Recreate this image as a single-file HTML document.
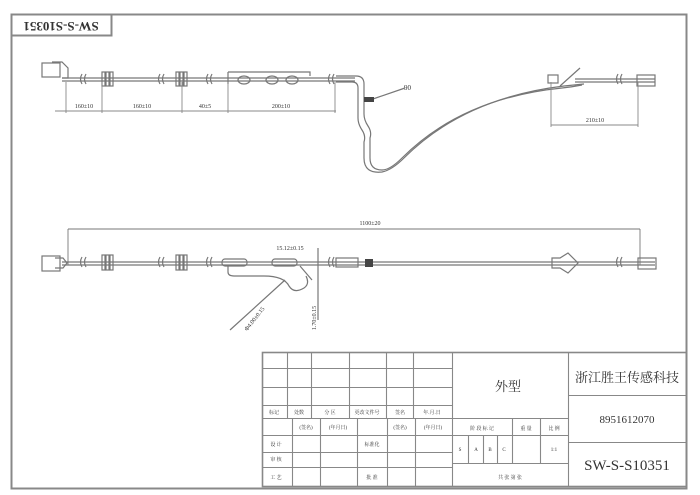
<!DOCTYPE html>
<html><head><meta charset="utf-8"><style>
html,body{margin:0;padding:0;background:#fff;}
svg{display:block;}
text{font-family:"Liberation Serif","Noto Serif CJK SC",serif;fill:#333;}
</style></head><body>
<svg width="700" height="495" viewBox="0 0 700 495" xmlns="http://www.w3.org/2000/svg">
<g fill="none" stroke="#777" stroke-width="1">
<rect x="11.5" y="14.5" width="675" height="474" stroke="#888" stroke-width="2"/>
<rect x="11.5" y="14.5" width="100" height="21" stroke="#888" stroke-width="2"/>
</g>
<text x="61" y="25" font-size="13" font-weight="bold" text-anchor="middle" transform="rotate(180 61 25)" dominant-baseline="middle" fill="#555">SW-S-S10351</text>

<g fill="none" stroke="#777" stroke-width="1.2">
<line x1="62" y1="78" x2="355" y2="78"/><line x1="62" y1="81" x2="355" y2="81"/>
<rect x="42" y="63" width="18" height="14"/><path d="M52 62 h10 l6 6 v10 h-6"/>
<path d="M82 74 q-3 5 0 10 M86 74 q-3 5 0 10"/>
<rect x="102" y="72" width="3" height="14"/><rect x="106" y="72" width="3" height="14"/><rect x="110" y="72" width="3" height="14"/>
<path d="M160 74 q-3 5 0 10 M164 74 q-3 5 0 10"/>
<rect x="176" y="72" width="3" height="14"/><rect x="180" y="72" width="3" height="14"/><rect x="184" y="72" width="3" height="14"/>
<path d="M208 74 q-3 5 0 10 M212 74 q-3 5 0 10"/>
<path d="M228 72 h82 l0 4 M228 72 v12"/>
<ellipse cx="244" cy="80" rx="6" ry="4"/><ellipse cx="272" cy="80" rx="6" ry="4"/><ellipse cx="292" cy="80" rx="6" ry="4"/>
<path d="M330 74 q-3 5 0 10 M334 74 q-3 5 0 10"/>
<path d="M336 76 h20 q8 0 8 8 v30 q0 6 4 12 q4 6 2 12 v20 q0 12 12 12 q8 0 20 -12 q60 -60 160 -70 q10 -1 20 -3"/>
<path d="M336 82 h16 q6 0 6 6 v30 q0 6 4 12 q4 6 2 12 v16 q0 16 18 14 q10 -2 22 -14 q60 -60 160 -72 q10 -1 20 -2"/>
<rect x="548" y="75" width="10" height="8"/>
<line x1="560" y1="86" x2="580" y2="68"/>
<line x1="575" y1="79" x2="655" y2="79"/><line x1="575" y1="82" x2="655" y2="82"/>
<path d="M618 74 q-3 5 0 10 M622 74 q-3 5 0 10"/>
<rect x="637" y="75" width="18" height="11"/>
<line x1="370" y1="100" x2="405" y2="88"/>
</g>
<rect x="364" y="97" width="10" height="5" fill="#444"/>
<text x="404" y="90" font-size="7">90</text>

<g stroke="#888" stroke-width="0.9" fill="none">
<line x1="55" y1="111" x2="336" y2="111"/>
<line x1="66" y1="82" x2="66" y2="113"/><line x1="102" y1="82" x2="102" y2="113"/>
<line x1="182" y1="82" x2="182" y2="113"/><line x1="228" y1="82" x2="228" y2="113"/>
<line x1="335" y1="82" x2="335" y2="113"/>
<line x1="551" y1="82" x2="551" y2="127"/><line x1="638" y1="82" x2="638" y2="127"/>
<line x1="551" y1="125" x2="638" y2="125"/>
</g>
<g font-size="6" text-anchor="middle">
<text x="84" y="108">160±10</text><text x="142" y="108">160±10</text>
<text x="205" y="108">40±5</text><text x="281" y="108">200±10</text>
<text x="595" y="122">210±10</text>
</g>

<g fill="none" stroke="#777" stroke-width="1.2">
<line x1="68" y1="229" x2="640" y2="229" stroke-width="0.9"/>
<line x1="68" y1="229" x2="68" y2="265" stroke-width="0.9"/>
<line x1="640" y1="229" x2="640" y2="265" stroke-width="0.9"/>
<line x1="62" y1="262" x2="655" y2="262"/><line x1="62" y1="265" x2="655" y2="265"/>
<rect x="42" y="256" width="18" height="15"/><path d="M55 258 h8 l4 5 -4 5 h-8"/>
<path d="M82 257 q-3 5 0 10 M86 257 q-3 5 0 10"/>
<rect x="102" y="255" width="3" height="15"/><rect x="106" y="255" width="3" height="15"/><rect x="110" y="255" width="3" height="15"/>
<path d="M160 257 q-3 5 0 10 M164 257 q-3 5 0 10"/>
<rect x="176" y="255" width="3" height="15"/><rect x="180" y="255" width="3" height="15"/><rect x="184" y="255" width="3" height="15"/>
<path d="M208 257 q-3 5 0 10 M212 257 q-3 5 0 10"/>
<rect x="222" y="259" width="25" height="7" rx="3"/><rect x="272" y="259" width="25" height="7" rx="3"/>
<path d="M228 266 v6 q0 4 6 4 h30 q20 0 25 10 q5 8 15 2 q6 -4 2 -12"/>
<line x1="300" y1="266" x2="312" y2="280"/>
<path d="M330 257 q-3 5 0 10 M334 257 q-3 5 0 10"/>
<rect x="336" y="258" width="22" height="9"/>
<line x1="318" y1="248" x2="318" y2="320"/>
<line x1="285" y1="280" x2="230" y2="330"/>
<path d="M552 258 h8 l8 -5 l10 10 -10 10 -8 -5 h-8 z"/>
<path d="M618 257 q-3 5 0 10 M622 257 q-3 5 0 10"/>
<rect x="638" y="258" width="18" height="11"/>
</g>
<path d="M365 259 h8 v8 h-8 z" fill="#444"/>
<g font-size="6" text-anchor="middle">
<text x="370" y="225">1100±20</text>
<text x="290" y="250">15.12±0.15</text>
<text x="256" y="320" transform="rotate(-52 256 320)">Φ4.00±0.15</text>
<text x="316" y="318" transform="rotate(-90 316 318)">1.70±0.15</text>
</g>

<g stroke="#888" stroke-width="1.1" fill="none">
<rect x="262.5" y="352.5" width="424" height="134" stroke-width="1.6"/>
<line x1="452.5" y1="352" x2="452.5" y2="486"/>
<line x1="568.5" y1="352" x2="568.5" y2="486"/>
<line x1="568" y1="395.5" x2="687" y2="395.5"/>
<line x1="568" y1="442.5" x2="687" y2="442.5"/>
<line x1="452" y1="418.5" x2="568" y2="418.5"/>
<line x1="452" y1="435.5" x2="568" y2="435.5"/>
<line x1="452" y1="463.5" x2="568" y2="463.5"/>
<line x1="468.5" y1="435" x2="468.5" y2="463"/><line x1="483.5" y1="435" x2="483.5" y2="463"/>
<line x1="497.5" y1="435" x2="497.5" y2="463"/><line x1="512.5" y1="418" x2="512.5" y2="463"/>
<line x1="540.5" y1="418" x2="540.5" y2="463"/>
<line x1="262" y1="368.5" x2="452" y2="368.5"/><line x1="262" y1="387.5" x2="452" y2="387.5"/>
<line x1="262" y1="405.5" x2="452" y2="405.5"/><line x1="262" y1="418.5" x2="452" y2="418.5"/>
<line x1="262" y1="435.5" x2="452" y2="435.5"/><line x1="262" y1="452.5" x2="452" y2="452.5"/>
<line x1="262" y1="467.5" x2="452" y2="467.5"/>
<line x1="287.5" y1="352" x2="287.5" y2="418"/><line x1="311.5" y1="352" x2="311.5" y2="418"/>
<line x1="349.5" y1="352" x2="349.5" y2="418"/><line x1="386.5" y1="352" x2="386.5" y2="418"/>
<line x1="413.5" y1="352" x2="413.5" y2="418"/>
<line x1="292.5" y1="418" x2="292.5" y2="486"/><line x1="320.5" y1="418" x2="320.5" y2="486"/>
<line x1="357.5" y1="418" x2="357.5" y2="486"/><line x1="387.5" y1="418" x2="387.5" y2="486"/>
<line x1="415.5" y1="418" x2="415.5" y2="486"/>
</g>
<g font-size="5" text-anchor="middle" fill="#555">
<text x="274" y="414">标记</text><text x="299" y="414">处数</text><text x="330" y="414">分 区</text>
<text x="367" y="414">更改文件号</text><text x="400" y="414">签名</text><text x="432" y="414">年.月.日</text>
<text x="306" y="429">(签名)</text><text x="338" y="429">(年月日)</text>
<text x="400" y="429">(签名)</text><text x="433" y="429">(年月日)</text>
<text x="276" y="446">设 计</text><text x="372" y="446">标准化</text>
<text x="276" y="461">审 核</text><text x="276" y="479">工 艺</text><text x="372" y="479">批 准</text>
<text x="482" y="430">阶 段 标 记</text><text x="526" y="430">重 量</text><text x="554" y="430">比 例</text>
<text x="460" y="451">S</text><text x="476" y="451">A</text><text x="490" y="451">B</text><text x="504" y="451">C</text>
<text x="554" y="451">1:1</text>
<text x="510" y="479">共   张   第   张</text>
</g>
<text x="508" y="391" font-size="13" text-anchor="middle">外型</text>
<text x="627" y="382" font-size="13" text-anchor="middle">浙江胜王传感科技</text>
<text x="627" y="423" font-size="11" text-anchor="middle">8951612070</text>
<text x="627" y="470" font-size="15" text-anchor="middle">SW-S-S10351</text>
</svg>
</body></html>
